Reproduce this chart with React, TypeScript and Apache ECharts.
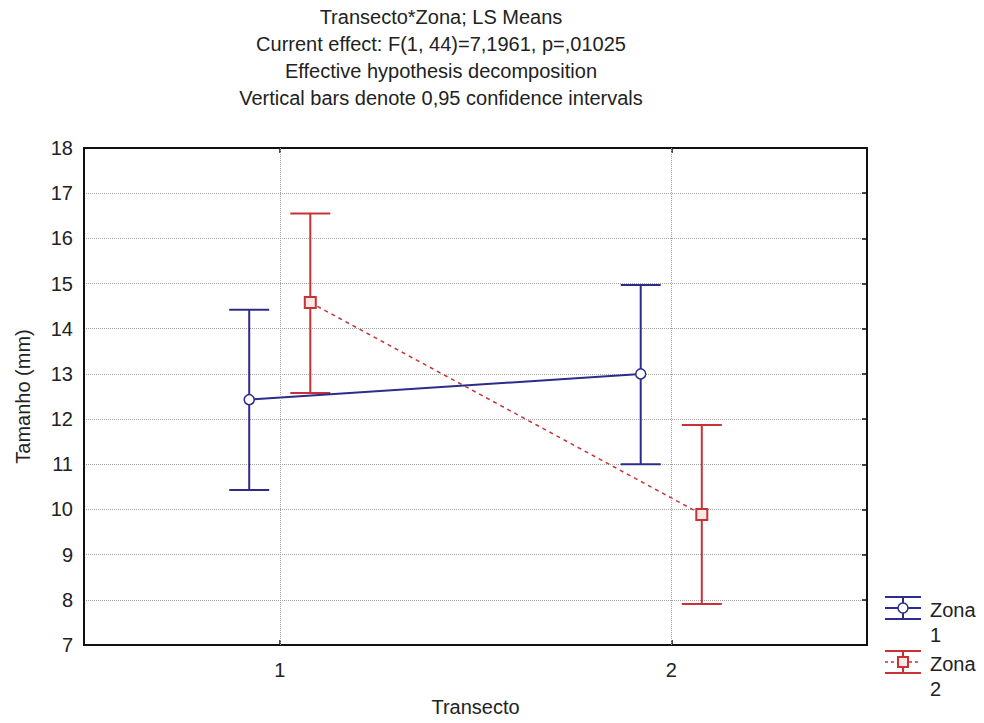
import React, { useEffect, useRef } from "react";
import * as echarts from "echarts";

// ---- data ----
const transecto = [1, 2];
const zonaNames = ["Zona 1", "Zona 2"];
const zona1Mean = [12.43, 13.0];
const zona1Lower = [10.43, 11.0];
const zona1Upper = [14.42, 14.97];
const zona2Mean = [14.58, 9.89];
const zona2Lower = [12.58, 7.91];
const zona2Upper = [16.55, 11.87];
const yTicks = [7, 8, 9, 10, 11, 12, 13, 14, 15, 16, 17, 18];
const titleLines = [
  "Transecto*Zona; LS Means",
  "Current effect: F(1, 44)=7,1961, p=,01025",
  "Effective hypothesis decomposition",
  "Vertical bars denote 0,95 confidence intervals",
];

const FONT = "'Liberation Sans', Arial, sans-serif";
const BLUE = "#2c2c8c";
const RED = "#c83236";
const TEXT = "#222";
const DODGE = 0.078;

function errorSeries(name: string, xs: number[], lo: number[], hi: number[], color: string) {
  return {
    type: "custom",
    name: name + " CI",
    silent: true,
    z: 2,
    renderItem: (params: any, api: any) => {
      const x = api.value(0);
      const pLo = api.coord([x, api.value(1)]);
      const pHi = api.coord([x, api.value(2)]);
      const hw = 20;
      const st = { stroke: color, lineWidth: 2 };
      return {
        type: "group",
        children: [
          { type: "line", shape: { x1: pLo[0], y1: pLo[1], x2: pHi[0], y2: pHi[1] }, style: st },
          { type: "line", shape: { x1: pLo[0] - hw, y1: pLo[1], x2: pLo[0] + hw, y2: pLo[1] }, style: st },
          { type: "line", shape: { x1: pHi[0] - hw, y1: pHi[1], x2: pHi[0] + hw, y2: pHi[1] }, style: st },
        ],
      };
    },
    encode: { x: 0, y: [1, 2] },
    data: xs.map((x, i) => [x, lo[i], hi[i]]),
  };
}

export default function App() {
  const ref = useRef<HTMLDivElement>(null);
  useEffect(() => {
    if (!ref.current) return;
    const chart = echarts.init(ref.current, undefined, { renderer: "svg" });
    const x1 = transecto.map((t) => t - DODGE);
    const x2 = transecto.map((t) => t + DODGE);
    const gridDot = { color: "#a0a0a0", type: "dotted", width: 1 };

    const legendEl = (cy: number, color: string, dashed: boolean, marker: any, label: string) => ({
      type: "group",
      children: [
        { type: "line", shape: { x1: 885, y1: cy - 11, x2: 921, y2: cy - 11 }, style: { stroke: color, lineWidth: 2 } },
        { type: "line", shape: { x1: 885, y1: cy + 11, x2: 921, y2: cy + 11 }, style: { stroke: color, lineWidth: 2 } },
        { type: "line", shape: { x1: 903, y1: cy - 11, x2: 903, y2: cy + 11 }, style: { stroke: color, lineWidth: 2 } },
        {
          type: "line",
          shape: { x1: 885, y1: cy, x2: 921, y2: cy },
          style: { stroke: color, lineWidth: dashed ? 1.5 : 2, lineDash: dashed ? [3, 3] : null },
        },
        marker,
        {
          type: "text",
          x: 930,
          y: cy - 11,
          style: { text: label, font: `20px ${FONT}`, fill: TEXT, lineHeight: 25, align: "left", verticalAlign: "top" },
        },
      ],
    });

    chart.setOption({
      animation: false,
      backgroundColor: "#fff",
      grid: { left: 84, top: 148, right: 117, bottom: 78, containLabel: false },
      graphic: [
        ...titleLines.map((t, i) => ({
          type: "text",
          x: 441,
          y: 17 + i * 27,
          style: { text: t, font: `20px ${FONT}`, fill: TEXT, align: "center", verticalAlign: "middle" },
        })),
        legendEl(
          608,
          BLUE,
          false,
          { type: "circle", shape: { cx: 903, cy: 608, r: 5 }, style: { fill: "#fff", stroke: BLUE, lineWidth: 1.5 } },
          "Zona\n1"
        ),
        legendEl(
          662,
          RED,
          true,
          { type: "rect", shape: { x: 898, y: 657, width: 10, height: 10 }, style: { fill: "#fde8e8", stroke: RED, lineWidth: 2 } },
          "Zona\n2"
        ),
      ],
      xAxis: [
        {
          type: "value",
          position: "bottom",
          min: 0.5,
          max: 2.5,
          interval: 0.5,
          name: "Transecto",
          nameLocation: "middle",
          nameGap: 52,
          nameTextStyle: { fontFamily: FONT, fontSize: 20, color: TEXT },
          axisLine: { show: true, onZero: false, lineStyle: { color: "#111", width: 2 } },
          axisTick: { show: true, inside: true, length: 5, customValues: transecto, lineStyle: { color: "#111", width: 1.5 } },
          axisLabel: {
            show: true,
            customValues: transecto,
            margin: 15,
            fontFamily: FONT,
            fontSize: 20,
            color: TEXT,
            formatter: (v: number) => (Number.isInteger(v) ? String(v) : ""),
          },
          splitLine: { show: false },
        },
        {
          type: "value",
          position: "top",
          min: 0.5,
          max: 2.5,
          interval: 0.5,
          axisLine: { show: true, onZero: false, lineStyle: { color: "#111", width: 2 } },
          axisTick: { show: true, inside: true, length: 5, customValues: transecto, lineStyle: { color: "#111", width: 1.5 } },
          axisLabel: { show: false },
          splitLine: { show: false },
        },
      ],
      yAxis: [
        {
          type: "value",
          position: "left",
          min: yTicks[0],
          max: yTicks[yTicks.length - 1],
          interval: 1,
          name: "Tamanho (mm)",
          nameLocation: "middle",
          nameRotate: 90,
          nameGap: 51,
          nameTextStyle: { fontFamily: FONT, fontSize: 20, color: TEXT },
          axisLine: { show: true, onZero: false, lineStyle: { color: "#111", width: 2 } },
          axisTick: { show: false },
          axisLabel: { margin: 11, fontFamily: FONT, fontSize: 20, color: TEXT },
          splitLine: { show: true, lineStyle: gridDot },
        },
        {
          type: "value",
          position: "right",
          min: yTicks[0],
          max: yTicks[yTicks.length - 1],
          interval: 1,
          axisLine: { show: true, onZero: false, lineStyle: { color: "#111", width: 2 } },
          axisTick: { show: true, inside: true, length: 5, lineStyle: { color: "#111", width: 1.5 } },
          axisLabel: { show: false },
          splitLine: { show: false },
        },
      ],
      series: [
        {
          type: "line",
          name: "grid-x",
          data: [],
          silent: true,
          markLine: {
            silent: true,
            symbol: "none",
            label: { show: false },
            lineStyle: gridDot,
            data: transecto.map((t) => ({ xAxis: t })),
          },
        },
        errorSeries(zonaNames[0], x1, zona1Lower, zona1Upper, BLUE),
        errorSeries(zonaNames[1], x2, zona2Lower, zona2Upper, RED),
        {
          type: "line",
          name: zonaNames[0],
          z: 3,
          data: x1.map((x, i) => [x, zona1Mean[i]]),
          symbol: "circle",
          symbolSize: 10,
          showSymbol: true,
          lineStyle: { color: BLUE, width: 2 },
          itemStyle: { color: "#fff", borderColor: BLUE, borderWidth: 1.5 },
        },
        {
          type: "line",
          name: zonaNames[1],
          z: 3,
          data: x2.map((x, i) => [x, zona2Mean[i]]),
          symbol: "rect",
          symbolSize: 11,
          showSymbol: true,
          lineStyle: { color: RED, width: 1.5, type: [4, 4] },
          itemStyle: { color: "#fde8e8", borderColor: RED, borderWidth: 2 },
        },
      ],
    });
    return () => chart.dispose();
  }, []);
  return <div ref={ref} style={{ position: "absolute", left: 0, top: 0, width: 984, height: 723 }} />;
}
